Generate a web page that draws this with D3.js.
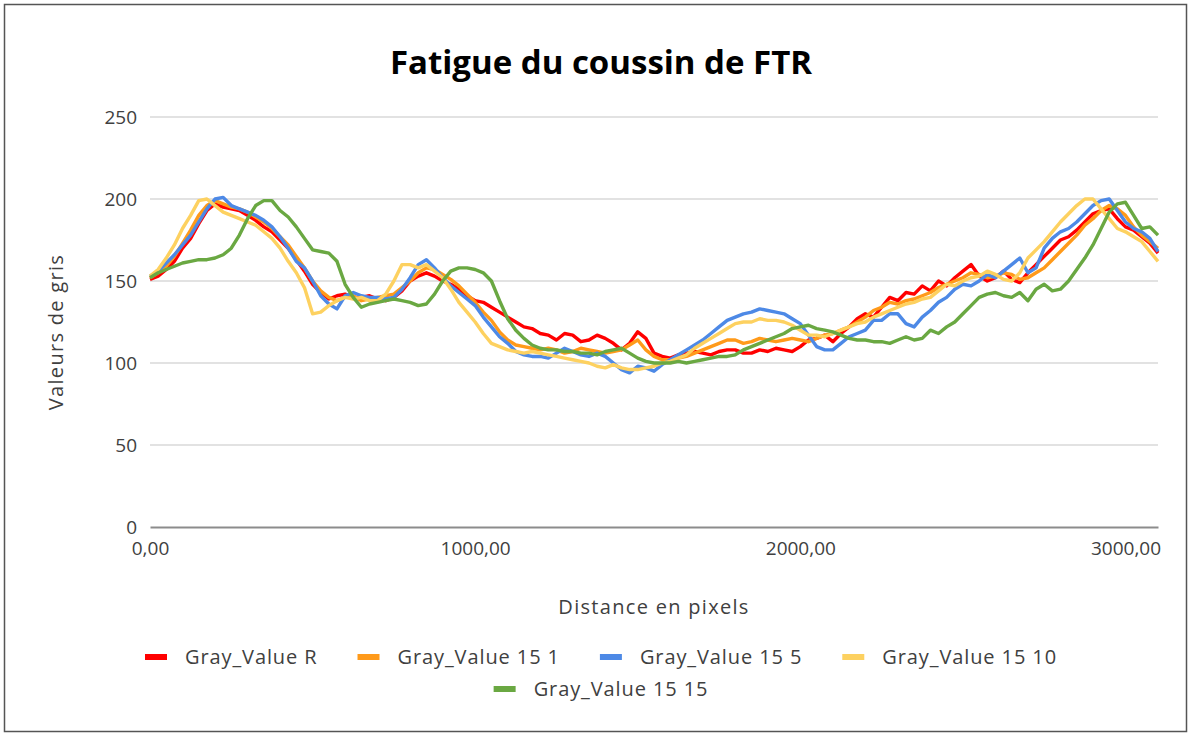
<!DOCTYPE html>
<html>
<head>
  <title>Fatigue du coussin de FTR</title>
  <script src="https://d3js.org/d3.v7.min.js"></script>
  <style>
    body { margin: 0; background: #fff; }
    text { font-family: "Open Sans", sans-serif; fill: #404040; }
    .grid line { stroke: #d9d9d9; stroke-width: 1.5px; }
    .serie { fill: none; stroke-width: 3.4px; stroke-linejoin: round; }
  </style>
</head>
<body>
  <svg id="chart" width="1191" height="735"></svg>

  <script>
    // distance en pixels, un point tous les 25
    const distances = d3.range(0, 3101, 25);

    const grayR = [
      151, 153, 157, 162, 170, 176, 185, 193, 197, 195,
      194, 193, 190, 187, 183, 180, 175, 170, 163, 156,
      148, 143, 139, 141, 142, 140, 140, 141, 139, 138,
      140, 144, 150, 153, 155, 153, 150, 148, 145, 141,
      138, 137, 134, 131, 128, 125, 122, 121, 118, 117,
      114, 118, 117, 113, 114, 117, 115, 112, 108, 112,
      119, 115, 106, 104, 103, 105, 106, 107, 106, 105,
      107, 108, 108, 106, 106, 108, 107, 109, 108, 107,
      110, 114, 115, 117, 113, 118, 122, 127, 130, 128,
      134, 140, 138, 143, 142, 147, 144, 150, 147, 152,
      156, 160, 153, 150, 152, 156, 151, 149, 155, 160,
      165, 170, 175, 177, 181, 186, 191, 193, 194, 188,
      183, 181, 177, 173, 167];
    const gray151 = [
      152, 155, 159, 165, 173, 181, 190, 196, 199, 197,
      195, 194, 192, 189, 186, 182, 177, 172, 165, 158,
      150, 144, 140, 138, 140, 141, 138, 139, 140, 141,
      142, 146, 150, 155, 158, 157, 154, 151, 147, 142,
      137, 131, 126, 119, 114, 111, 110, 109, 108, 109,
      108, 106, 107, 109, 108, 107, 106, 107, 108, 111,
      114, 108, 104, 102, 102, 103, 104, 106, 108, 110,
      112, 114, 114, 112, 113, 115, 114, 113, 114, 115,
      114, 113, 115, 117, 118, 120, 122, 125, 128, 132,
      134, 137, 136, 138, 139, 141, 143, 146, 148, 150,
      152, 155, 154, 152, 153, 155, 154, 151, 152, 155,
      158, 163, 168, 173, 178, 184, 188, 193, 196, 194,
      190, 183, 178, 174, 170];
    const gray155 = [
      153, 156, 161, 166, 172, 178, 186, 194, 200, 201,
      196, 194, 192, 190, 187, 183, 177, 170, 162, 158,
      150, 141, 136, 133, 141, 143, 141, 140, 140, 139,
      140, 145, 152, 160, 163, 158, 152, 147, 143, 139,
      135, 128, 122, 116, 112, 107, 105, 104, 104, 103,
      106, 109, 107, 105, 104, 106, 104, 100, 96, 94,
      98, 97, 95, 99, 102, 105, 108, 111, 114, 118,
      122, 126, 128, 130, 131, 133, 132, 131, 130, 127,
      124, 117, 110, 108, 108, 112, 116, 118, 120, 126,
      126, 130, 130, 124, 122, 128, 132, 137, 140, 145,
      148, 147, 150, 154, 152, 156, 160, 164, 155, 158,
      170, 176, 180, 182, 186, 191, 196, 199, 200, 193,
      186, 182, 180, 176, 168];
    const gray1510 = [
      153, 157, 164, 172, 182, 190, 199, 200, 196, 192,
      190, 188, 186, 184, 180, 176, 170, 162, 155, 146,
      130, 131, 135, 138, 140, 139, 140, 138, 138, 142,
      150, 160, 160, 158, 160, 156, 152, 145, 137, 131,
      125, 118, 112, 110, 108, 107, 106, 107, 106, 105,
      104, 103, 102, 101, 100, 98, 97, 99, 97, 96,
      96, 97, 98, 100, 101, 103, 105, 109, 112, 115,
      118, 121, 124, 125, 125, 127, 126, 126, 125, 123,
      120, 117, 117, 116, 118, 120, 122, 124, 125, 128,
      130, 132, 134, 136, 137, 139, 140, 144, 148, 147,
      150, 152, 153, 156, 154, 151, 150, 155, 164, 169,
      174, 180, 186, 191, 196, 200, 200, 194, 188, 182,
      180, 177, 174, 168, 162];
    const gray1515 = [
      152, 155, 157, 159, 161, 162, 163, 163, 164, 166,
      170, 178, 188, 196, 199, 199, 193, 189, 183, 176,
      169, 168, 167, 162, 148, 140, 134, 136, 137, 138,
      139, 138, 137, 135, 136, 142, 150, 156, 158, 158,
      157, 155, 150, 138, 127, 120, 115, 111, 109, 108,
      108, 107, 107, 106, 106, 105, 107, 108, 109, 106,
      103, 101, 100, 100, 100, 101, 100, 101, 102, 103,
      104, 104, 105, 108, 110, 112, 114, 116, 118, 121,
      122, 123, 121, 120, 119, 117, 115, 114, 114, 113,
      113, 112, 114, 116, 114, 115, 120, 118, 122, 125,
      130, 135, 140, 142, 143, 141, 140, 143, 138, 145,
      148, 144, 145, 150, 157, 164, 172, 182, 192, 197,
      198, 190, 182, 183, 178];

    const seriesNames = ["Gray_Value R", "Gray_Value 15 1", "Gray_Value 15 5", "Gray_Value 15 10", "Gray_Value 15 15"];
    const seriesValues = [grayR, gray151, gray155, gray1510, gray1515];
    const seriesColors = ["#ff0000", "#ff9a1a", "#4d89e6", "#fdd160", "#6aa842"];

    const yTicks = [0, 50, 100, 150, 200, 250];
    const xTicks = [0, 1000, 2000, 3000];

    const svg = d3.select("#chart");

    // cadre autour du graphique
    svg.append("rect")
      .attr("x", 4.5).attr("y", 4.5)
      .attr("width", 1182).attr("height", 727)
      .attr("fill", "none")
      .attr("stroke", "#555")
      .attr("stroke-width", 1.5);

    const plot = { left: 150, right: 1158, top: 117, bottom: 527 };

    const x = d3.scaleLinear().domain([0, 3100]).range([plot.left, plot.right]);
    const y = d3.scaleLinear().domain([0, 250]).range([plot.bottom, plot.top]);

    // grille horizontale
    svg.append("g")
      .attr("class", "grid")
      .selectAll("line")
      .data(yTicks.filter(d => d > 0))
      .join("line")
      .attr("x1", plot.left).attr("x2", plot.right)
      .attr("y1", d => y(d)).attr("y2", d => y(d));

    // axe Y (labels seulement)
    const yAxis = svg.append("g")
      .attr("transform", `translate(${plot.left},0)`)
      .call(d3.axisLeft(y).tickValues(yTicks).tickSize(0).tickPadding(13));
    yAxis.select(".domain").remove();
    yAxis.selectAll("text").style("font-size", "19px").attr("fill", "#404040");

    // axe X
    const xAxis = svg.append("g")
      .attr("transform", `translate(0,${plot.bottom})`)
      .call(d3.axisBottom(x).tickValues(xTicks).tickSize(0).tickPadding(15)
        .tickFormat(d => d3.format(".2f")(d).replace(".", ",")));
    xAxis.select(".domain")
      .attr("stroke", "#8c8c8c")
      .attr("stroke-width", 2);
    xAxis.selectAll("text").style("font-size", "19px").attr("fill", "#404040");

    // courbes
    const line = d3.line()
      .x((d, i) => x(distances[i]))
      .y(d => y(d));

    svg.append("g")
      .selectAll("path")
      .data(seriesValues)
      .join("path")
      .attr("class", "serie")
      .attr("stroke", (d, i) => seriesColors[i])
      .attr("d", line);

    // titres
    svg.append("text")
      .attr("x", 601).attr("y", 74)
      .attr("text-anchor", "middle")
      .style("font-size", "33px")
      .style("font-weight", "bold")
      .style("fill", "#000")
      .text("Fatigue du coussin de FTR");

    svg.append("text")
      .attr("transform", "translate(63,332) rotate(-90)")
      .attr("text-anchor", "middle")
      .style("font-size", "20px")
      .style("letter-spacing", "1.3px")
      .text("Valeurs de gris");

    svg.append("text")
      .attr("x", 654).attr("y", 614)
      .attr("text-anchor", "middle")
      .style("font-size", "20px")
      .style("letter-spacing", "1.3px")
      .text("Distance en pixels");

    // légende, centrée sous le graphique
    const legendRows = [[0, 1, 2, 3], [4]];
    const legendY = [657, 689];
    legendRows.forEach((row, r) => {
      const g = svg.append("g");
      let cx = 0;
      row.forEach(i => {
        const item = g.append("g").attr("transform", `translate(${cx},0)`);
        item.append("line")
          .attr("x1", 0).attr("x2", 22)
          .attr("y1", 0).attr("y2", 0)
          .attr("stroke", seriesColors[i])
          .attr("stroke-width", 6);
        const t = item.append("text")
          .attr("x", 40).attr("y", 7)
          .style("font-size", "20px")
          .style("letter-spacing", "0.9px")
          .text(seriesNames[i]);
        cx += 40 + t.node().getComputedTextLength() + 40;
      });
      const w = cx - 40;
      g.attr("transform", `translate(${601 - w / 2},${legendY[r]})`);
    });
  </script>
</body>
</html>
